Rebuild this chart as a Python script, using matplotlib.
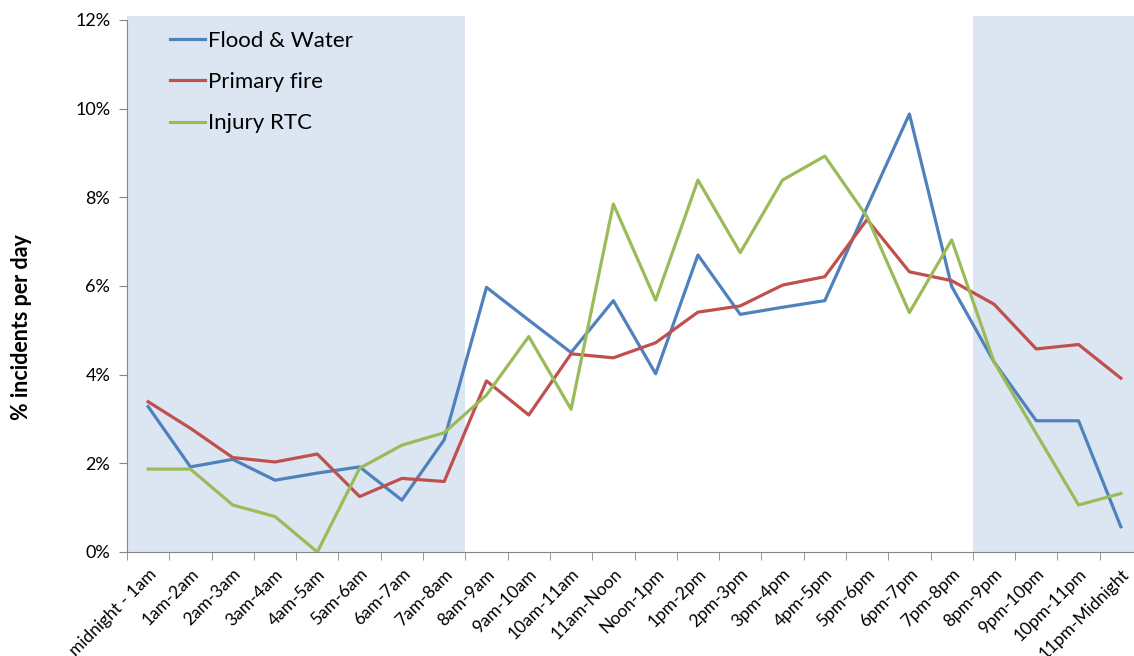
import numpy as np
import matplotlib.pyplot as plt

plt.rcParams['font.family'] = ['Lato', 'DejaVu Sans']

hours = ['midnight - 1am', '1am-2am', '2am-3am', '3am-4am', '4am-5am', '5am-6am',
         '6am-7am', '7am-8am', '8am-9am', '9am-10am', '10am-11am', '11am-Noon',
         'Noon-1pm', '1pm-2pm', '2pm-3pm', '3pm-4pm', '4pm-5pm', '5pm-6pm',
         '6pm-7pm', '7pm-8pm', '8pm-9pm', '9pm-10pm', '10pm-11pm', '11pm-Midnight']

# % of incidents in each hour of the day
flood_water = [3.28, 1.92, 2.09, 1.62, 1.78, 1.92, 1.17, 2.53, 5.97, 5.23, 4.50, 5.67,
               4.02, 6.70, 5.36, 5.52, 5.67, 7.78, 9.88, 5.99, 4.29, 2.96, 2.96, 0.57]
primary_fire = [3.39, 2.79, 2.13, 2.03, 2.21, 1.25, 1.66, 1.59, 3.86, 3.09, 4.47, 4.38,
                4.72, 5.41, 5.55, 6.02, 6.21, 7.50, 6.32, 6.12, 5.59, 4.58, 4.68, 3.92]
injury_rtc = [1.87, 1.87, 1.06, 0.80, 0.00, 1.89, 2.41, 2.69, 3.54, 4.86, 3.22, 7.85,
              5.68, 8.39, 6.75, 8.39, 8.93, 7.56, 5.40, 7.04, 4.29, 2.67, 1.06, 1.32]

# night-time hours get a shaded band
night = [(-0.5, 7.5), (19.5, 23.5)]

fig = plt.figure(figsize=(11.34, 6.56), dpi=100)
ax = fig.add_axes([127 / 1134, 104 / 656, 1015 / 1134, 532 / 656])

x = np.arange(len(hours))
for start, end in night:
    ax.axvspan(start, end, ymin=0, ymax=1.0075, color='#DCE6F2', lw=0, clip_on=False, zorder=0)

ax.plot(x, flood_water, color='#4F81BD', lw=2.3, label='Flood & Water', zorder=3)
ax.plot(x, primary_fire, color='#C0504D', lw=2.3, label='Primary fire', zorder=3)
ax.plot(x, injury_rtc, color='#9BBB59', lw=2.3, label='Injury RTC', zorder=3)

ax.set_xlim(-0.5, 23.5)
ax.set_ylim(0, 12)
ax.set_yticks(np.arange(0, 13, 2))
ax.set_yticklabels(['%d%%' % v for v in range(0, 13, 2)], fontsize=13)
ax.set_xticks(x)
ax.set_xticklabels(hours, rotation=45, ha='right', rotation_mode='anchor', fontsize=12.5)
ax.set_xticks(np.arange(-0.5, 24, 1), minor=True)
ax.tick_params(axis='x', which='major', length=0, pad=10)
ax.tick_params(axis='x', which='minor', length=6, color='#868686')
ax.tick_params(axis='y', length=6, color='#868686', pad=6)

for side in ['top', 'right']:
    ax.spines[side].set_visible(False)
for side in ['left', 'bottom']:
    ax.spines[side].set_color('#868686')

fig.text(22 / 1134, 1 - 327 / 656, '% incidents per day', rotation=90, fontsize=15.5,
         fontweight='bold', ha='center', va='center')

ax.legend(loc='upper left', bbox_to_anchor=(0.023, 1.0175), frameon=False, fontsize=16,
          handlelength=1.55, handletextpad=0.15, labelspacing=0.96)

fig.savefig('out.png', dpi=100)
